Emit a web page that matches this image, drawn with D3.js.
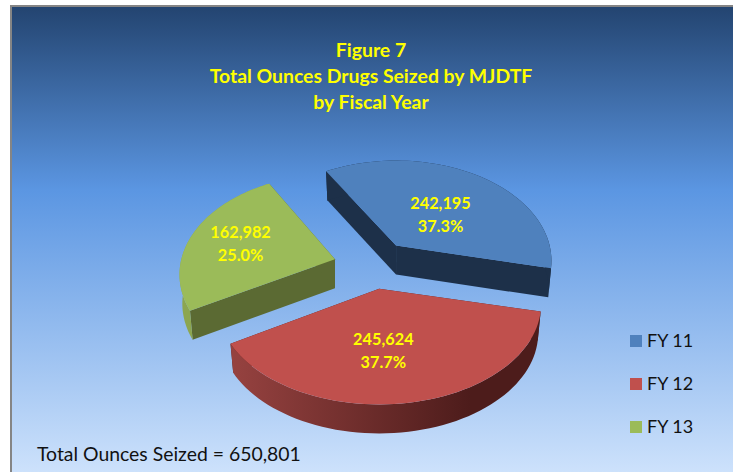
<!DOCTYPE html>
<html>
<head>
<meta charset="utf-8">
<script src="https://cdn.jsdelivr.net/npm/d3@7"></script>
<style>
  html, body { margin: 0; padding: 0; background: #fff; }
  svg { display: block; }
  text { font-family: Lato, "Open Sans", sans-serif; }
</style>
</head>
<body>
<script>
const anosFiscais = ['FY 11', 'FY 12', 'FY 13']
const onzas = [242195, 245624, 162982]
const rotulos = ['242,195', '245,624', '162,982']
const percentuais = ['37.3%', '37.7%', '25.0%']
const titulo = ['Figure 7', 'Total Ounces Drugs Seized by MJDTF', 'by Fiscal Year']
const total = 'Total Ounces Seized = 650,801'

const coresTopo = ['#4f81bd', '#c0504d', '#9bbb59']
const coresLado = ['#1d3049', '#4d1c1b', '#5b6a33']

const largura = 733
const altura = 472

// pie geometry, fitted to the picture
const centro = {x: 373, y: 265}
const raio = 160
const achatamento = 0.6125
const perspectiva = 0.153
const explosao = 0.245
const profundidade = 29
const encolheBase = 0.982
// slices further back come out a bit narrower, the green one also sits a bit rotated
const estreitaFatia = [0.96, 1, 0.96]
const giroFatia = [0, 0, 2]

const svg = d3.select('body').append('svg').attr('width', largura).attr('height', altura)
const defs = svg.append('defs')

const fundo = defs.append('linearGradient').attr('id', 'fundo')
  .attr('x1', 0).attr('y1', 0).attr('x2', 0).attr('y2', 1)
fundo.append('stop').attr('offset', '0%').attr('stop-color', '#234470')
fundo.append('stop').attr('offset', '39%').attr('stop-color', '#5b96e2')
fundo.append('stop').attr('offset', '100%').attr('stop-color', '#cfe3fc')

const paredeVermelha = defs.append('linearGradient').attr('id', 'paredeVermelha')
  .attr('gradientUnits', 'userSpaceOnUse')
  .attr('x1', 232).attr('y1', 0).attr('x2', 470).attr('y2', 0)
paredeVermelha.append('stop').attr('offset', '0%').attr('stop-color', '#964240')
paredeVermelha.append('stop').attr('offset', '100%').attr('stop-color', '#4d1c1b')

svg.append('rect')
  .attr('x', 11).attr('y', 6)
  .attr('width', largura).attr('height', altura)
  .attr('fill', 'url(#fundo)')
  .attr('stroke', '#858585').attr('stroke-width', 2)

titulo.forEach(function (linha, i) {
  svg.append('text')
    .attr('x', 371).attr('y', 57 + i * 26)
    .attr('text-anchor', 'middle')
    .style('font-size', '19.4px').style('font-weight', 'bold')
    .attr('fill', '#ffff00')
    .text(linha)
})

const fatias = d3.pie().sort(null)
  .startAngle(-31 * Math.PI / 180)
  .endAngle(329 * Math.PI / 180)(onzas)

// plane point (radius t, angle a) to screen, relative to the slice apex
function projetar(t, a, estreita) {
  const u = t * Math.sin(a)
  const v = -t * Math.cos(a)
  const f = 1 / (1 - perspectiva * v)
  return [raio * u * f * estreita, raio * achatamento * v * f]
}

function amostrar(a0, a1) {
  return d3.range(0, 61).map(function (i) { return a0 + (a1 - a0) * i / 60 })
}

function apiceDe(d) {
  const meio = (d.startAngle + d.endAngle) / 2
  return [
    centro.x + explosao * raio * Math.sin(meio),
    centro.y - explosao * raio * achatamento * Math.cos(meio)
  ]
}

const linha = d3.line()

const ordem = [0, 2, 1]
ordem.forEach(function (i) {
  const d = fatias[i]
  const apice = apiceDe(d)
  const giro = giroFatia[i] * Math.PI / 180
  const topo = function (p) { return [apice[0] + p[0], apice[1] + p[1]] }
  const base = function (p) { return [apice[0] + p[0] * encolheBase, apice[1] + p[1] + profundidade] }

  const angulos = amostrar(d.startAngle + giro, d.endAngle + giro)
  const arco = angulos.map(function (a) { return projetar(1, a, estreitaFatia[i]) })
  const g = svg.append('g').attr('class', 'fatia')

  const corParede = i === 1 ? 'url(#paredeVermelha)' : (i === 2 ? '#8ca650' : coresLado[i])

  // cut faces
  ;[arco[0], arco[arco.length - 1]].forEach(function (p) {
    g.append('path')
      .attr('d', linha([topo([0, 0]), topo(p), base(p), base([0, 0])]) + 'Z')
      .attr('fill', coresLado[i])
  })

  // outer wall
  g.append('path')
    .attr('d', linha(arco.map(topo).concat(arco.slice().reverse().map(base))) + 'Z')
    .attr('fill', corParede)

  // top face
  g.append('path')
    .attr('d', linha([topo([0, 0])].concat(arco.map(topo))) + 'Z')
    .attr('fill', coresTopo[i])
})

// data labels
const ajusteRotulo = [[-2, 9], [-11, 3], [-14, -4]]
fatias.forEach(function (d, i) {
  const meio = (d.startAngle + d.endAngle) / 2
  const apice = apiceDe(d)
  const p = projetar(0.55, meio, estreitaFatia[i])
  const x = apice[0] + p[0] + ajusteRotulo[i][0]
  const y = apice[1] + p[1] + ajusteRotulo[i][1]
  ;[rotulos[i], percentuais[i]].forEach(function (texto, j) {
    svg.append('text')
      .attr('x', x).attr('y', y - 5 + j * 23)
      .attr('text-anchor', 'middle')
      .style('font-size', '16.3px').style('font-weight', 'bold')
      .attr('fill', '#ffff00')
      .text(texto)
  })
})

// legend
anosFiscais.forEach(function (nome, i) {
  svg.append('rect')
    .attr('x', 630).attr('y', 335 + i * 43)
    .attr('width', 12).attr('height', 12)
    .attr('fill', coresTopo[i])
  svg.append('text')
    .attr('x', 647).attr('y', 347 + i * 43)
    .style('font-size', '18px')
    .attr('fill', '#111')
    .text(nome)
})

svg.append('text')
  .attr('x', 37).attr('y', 461)
  .style('font-size', '19.4px')
  .attr('fill', '#111')
  .text(total)
</script>
</body>
</html>
